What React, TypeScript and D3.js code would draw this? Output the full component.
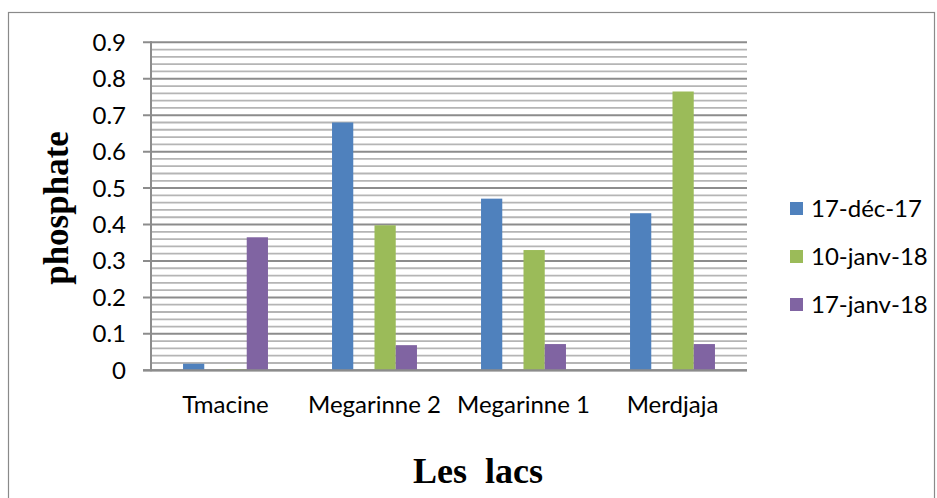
import React from "react";
import * as d3 from "d3";

// Lakes sampled and the phosphate readings for each sampling date
const lakes = ["Tmacine", "Megarinne 2", "Megarinne 1", "Merdjaja"];
const seriesNames = ["17-déc-17", "10-janv-18", "17-janv-18"];
const dec17 = [0.018, 0.68, 0.471, 0.431];
const jan10 = [0.003, 0.398, 0.33, 0.765];
const jan17 = [0.365, 0.069, 0.072, 0.072];
const seriesColors = ["#4F81BD", "#9BBB59", "#8064A2"];
// Cluster slots: the second slot is left empty, as in the source workbook
const slotKeys = ["s0", "gap", "s1", "s2"];
const seriesSlot = ["s0", "s1", "s2"];
const yTicks = [0, 0.1, 0.2, 0.3, 0.4, 0.5, 0.6, 0.7, 0.8, 0.9];

const W = 937;
const H = 498;
const plot = { left: 151, right: 747, top: 42.3, bottom: 370.3 };
const sansFont = "Lato, 'Open Sans', sans-serif";
const serifFont = "'Liberation Serif', 'Times New Roman', serif";
const labelSize = 24;

export default function App() {
  const values = [dec17, jan10, jan17];
  const x0 = d3.scaleBand<string>().domain(lakes).range([plot.left, plot.right]);
  const bw = x0.bandwidth();
  const x1 = d3
    .scaleBand<string>()
    .domain(slotKeys)
    .range([bw * 0.215, bw * 0.785]);
  const y = d3.scaleLinear().domain([0, 0.9]).range([plot.bottom, plot.top]);
  const minor = d3.range(0, 0.9001, 0.02).filter((v) => Math.abs(v * 10 - Math.round(v * 10)) > 1e-6);

  return (
    <svg
      width={W}
      height={H}
      style={{ position: "absolute", left: 0, top: 0, background: "#fff" }}
    >
      <rect x={8.5} y={12.5} width={926} height={500} fill="#fff" stroke="#8a8a8a" strokeWidth={1.2} />

      {/* minor gridlines */}
      {minor.map((v) => (
        <line key={"m" + v} x1={plot.left} x2={plot.right} y1={y(v)} y2={y(v)} stroke="#b5b5b5" strokeWidth={1.8} />
      ))}
      {/* major gridlines and ticks */}
      {yTicks.map((v) => (
        <g key={"M" + v}>
          <line x1={plot.left - 8} x2={plot.right} y1={y(v)} y2={y(v)} stroke="#8c8c8c" strokeWidth={2} />
          <text
            x={126}
            y={y(v) + 8.5}
            textAnchor="end"
            fontFamily={sansFont}
            fontSize={labelSize}
            fill="#000"
          >
            {v === 0 ? "0" : d3.format(".1f")(v)}
          </text>
        </g>
      ))}
      {/* value axis line */}
      <line x1={plot.left} x2={plot.left} y1={plot.top - 1} y2={plot.bottom + 1} stroke="#8c8c8c" strokeWidth={2} />

      {/* bars */}
      {lakes.map((lake, i) => (
        <g key={lake} transform={`translate(${x0(lake)},0)`}>
          {values.map((vals, s) => (
            <rect
              key={s}
              x={x1(seriesSlot[s])}
              y={y(vals[i])}
              width={x1.bandwidth()}
              height={plot.bottom - y(vals[i])}
              fill={seriesColors[s]}
            />
          ))}
        </g>
      ))}
      {/* category axis baseline */}
      <line x1={plot.left - 8} x2={plot.right} y1={plot.bottom} y2={plot.bottom} stroke="#8c8c8c" strokeWidth={2.2} />

      {/* category labels */}
      {lakes.map((lake) => (
        <text
          key={"l" + lake}
          x={(x0(lake) as number) + bw / 2}
          y={413}
          textAnchor="middle"
          fontFamily={sansFont}
          fontSize={labelSize}
          fill="#000"
        >
          {lake}
        </text>
      ))}

      {/* legend */}
      {seriesNames.map((name, s) => (
        <g key={name} transform={`translate(790,${217 + s * 48})`}>
          <rect x={0} y={-15} width={13} height={13} fill={seriesColors[s]} />
          <text x={21} y={0} fontFamily={sansFont} fontSize={labelSize} fill="#000">
            {name}
          </text>
        </g>
      ))}

      {/* axis titles */}
      <text
        transform="translate(68,208) rotate(-90)"
        textAnchor="middle"
        fontFamily={serifFont}
        fontWeight="bold"
        fontSize={35}
        fill="#000"
      >
        phosphate
      </text>
      <text
        x={478}
        y={483}
        textAnchor="middle"
        fontFamily={serifFont}
        fontWeight="bold"
        fontSize={36}
        fill="#000"
        style={{ whiteSpace: "pre" }}
      >
        {"Les  lacs"}
      </text>
    </svg>
  );
}
